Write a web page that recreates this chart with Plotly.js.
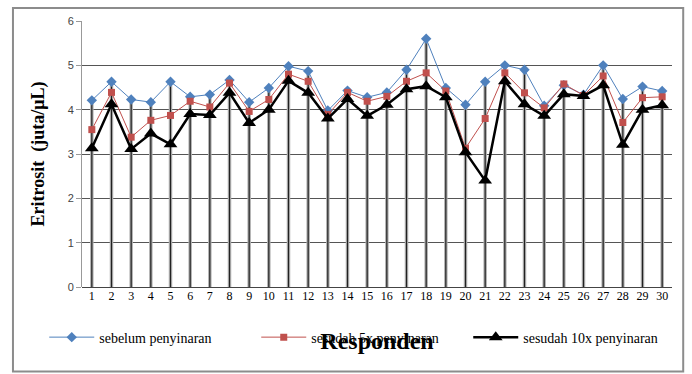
<!DOCTYPE html>
<html>
<head>
<meta charset="utf-8">
<script src="https://cdn.plot.ly/plotly-3.0.1.min.js"></script>
<style>html,body{margin:0;padding:0;background:#fff}#chart{width:692px;height:374px}</style>
</head>
<body>
<div id="chart"></div>
<script>
const responden = [1,2,3,4,5,6,7,8,9,10,11,12,13,14,15,16,17,18,19,20,21,22,23,24,25,26,27,28,29,30];
const sebelum = [4.21,4.63,4.23,4.17,4.63,4.29,4.34,4.67,4.17,4.49,4.98,4.87,3.98,4.43,4.28,4.39,4.90,5.60,4.49,4.11,4.63,5.00,4.90,4.09,4.55,4.34,5.00,4.24,4.52,4.42];
const sesudah5 = [3.55,4.39,3.38,3.76,3.87,4.19,4.06,4.60,3.96,4.23,4.80,4.64,3.89,4.39,4.19,4.30,4.64,4.83,4.42,3.13,3.80,4.83,4.38,4.04,4.58,4.32,4.76,3.71,4.27,4.29];
const sesudah10 = [3.13,4.12,3.11,3.46,3.22,3.90,3.88,4.38,3.70,4.00,4.65,4.38,3.80,4.24,3.86,4.11,4.46,4.53,4.28,3.04,2.40,4.64,4.12,3.86,4.35,4.31,4.55,3.21,4.00,4.10];
const namaSeri = ["sebelum penyinaran","sesudah 5x penyinaran","sesudah 10x penyinaran"];

// drop lines from each respondent's highest value down to zero
const dropX = [], dropY = [];
responden.forEach((r,i)=>{
  const top = Math.max(sebelum[i], sesudah5[i], sesudah10[i]);
  dropX.push(r, r, null);
  dropY.push(0, top, null);
});

const serif = "Liberation Serif, Times New Roman, serif";
const traces = [
  {x: dropX, y: dropY, mode:'lines', line:{color:'#b0b0b0', width:3.5}, showlegend:false, hoverinfo:'skip'},
  {x: dropX, y: dropY, mode:'lines', line:{color:'#222', width:1.2}, showlegend:false, hoverinfo:'skip'},
  {x: responden, y: sebelum, name: namaSeri[0], mode:'lines+markers',
   line:{color:'#4F81BD', width:1}, marker:{symbol:'diamond', size:8, color:'#4F81BD'}},
  {x: responden, y: sesudah5, name: namaSeri[1], mode:'lines+markers',
   line:{color:'#C0504D', width:1}, marker:{symbol:'square', size:7, color:'#C0504D'}},
  {x: responden, y: sesudah10, name: namaSeri[2], mode:'lines+markers',
   line:{color:'#000', width:2.5}, marker:{symbol:'triangle-up', size:12, color:'#000'}}
];

const layout = {
  width:692, height:374,
  margin:{l:82, r:20, t:21, b:87},
  paper_bgcolor:'#fff', plot_bgcolor:'#fff',
  showlegend:true,
  xaxis:{
    range:[0.5,30.5], tickmode:'array', tickvals:responden, ticktext:responden.map(String),
    showgrid:false, zeroline:false, showline:false, ticks:'',
    tickfont:{family:serif, size:12, color:'#000'},
    title:{text:'Responden', font:{family:serif, size:24, color:'#000', weight:'bold'}, standoff:30},
    automargin:false
  },
  yaxis:{
    range:[0,6], dtick:1, tick0:0,
    showgrid:true, gridcolor:'#555', gridwidth:1,
    zeroline:true, zerolinecolor:'#444', zerolinewidth:1,
    showline:true, linecolor:'#999', linewidth:1,
    ticks:'outside', ticklen:5, tickcolor:'#999',
    tickfont:{family:'Liberation Sans, Arial, sans-serif', size:11, color:'#444'},
    title:{text:'Eritrosit  (juta/μL)', font:{family:serif, size:18, color:'#000', weight:'bold'}, standoff:18},
    automargin:false
  },
  legend:{orientation:'h', x:-0.064, xanchor:'left', y:-0.19, yanchor:'middle',
    font:{family:serif, size:14, color:'#000'}, bgcolor:'rgba(0,0,0,0)', itemwidth:45,
    entrywidth:152, entrywidthmode:'pixels'},
  shapes:[{type:'rect', xref:'paper', yref:'paper', x0:-0.117, x1:1.019, y0:-0.318, y1:1.049,
    line:{color:'#8c8c8c', width:2}, layer:'below'}]
};

Plotly.newPlot('chart', traces, layout, {displayModeBar:false, staticPlot:true});
</script>
</body>
</html>
